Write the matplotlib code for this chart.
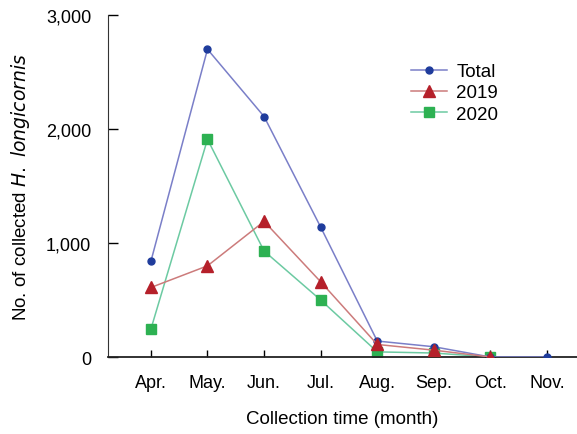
import numpy as np
import matplotlib.pyplot as plt
from matplotlib.ticker import FuncFormatter

plt.rcParams['font.family'] = ['Liberation Sans Narrow', 'Liberation Sans', 'DejaVu Sans']

months = ['Apr.', 'May.', 'Jun.', 'Jul.', 'Aug.', 'Sep.', 'Oct.', 'Nov.']
total = [840, 2700, 2110, 1140, 140, 90, 0, 0]
y2019 = [610, 800, 1190, 660, 110, 60, 0]
y2020 = [245, 1910, 930, 500, 45, 35, 0]

fig = plt.figure(figsize=(5.77, 4.35), dpi=100)
ax = fig.add_axes([0.187, 0.177, 0.813, 0.786])

x = np.arange(len(months))
ax.plot(x, total, color='#7a7fc8', lw=1.1, marker='o', ms=5,
        mfc='#1f3c9c', mec='#1f3c9c', label='Total', zorder=3)
ax.plot(x[:len(y2019)], y2019, color='#cc7b7b', lw=1.1, marker='^', ms=9,
        mfc='#b5202a', mec='#b5202a', label='2019', zorder=4)
ax.plot(x[:len(y2020)], y2020, color='#6ccaa2', lw=1.1, marker='s', ms=7,
        mfc='#2db152', mec='#2db152', label='2020', zorder=2)

ax.set_xlim(-0.76, 7.53)
ax.set_ylim(0, 3000)
ax.set_xticks(x)
ax.set_xticklabels(months)
ax.set_yticks([0, 1000, 2000, 3000])
ax.yaxis.set_major_formatter(FuncFormatter(lambda v, p: f'{int(v):,}'))
ax.tick_params(axis='y', direction='in', length=7, width=1, labelsize=13, pad=12)
ax.tick_params(axis='x', direction='in', length=5, width=1, labelsize=13, pad=12)

for s in ['top', 'right']:
    ax.spines[s].set_visible(False)
ax.spines['left'].set_color('#333333')
ax.spines['bottom'].set_color('#222222')
ax.spines['bottom'].set_linewidth(1.3)

ax.set_xlabel('Collection time (month)', fontsize=13.5, labelpad=14)
ax.set_ylabel('No. of collected $\\it{H.\\ longicornis}$', fontsize=13.5, labelpad=10)

ax.legend(loc='upper left', bbox_to_anchor=(0.627, 0.887), frameon=False,
          fontsize=13.5, handlelength=1.9, labelspacing=0.22, borderpad=0,
          handletextpad=0.5)

fig.savefig('out.png', dpi=100)
